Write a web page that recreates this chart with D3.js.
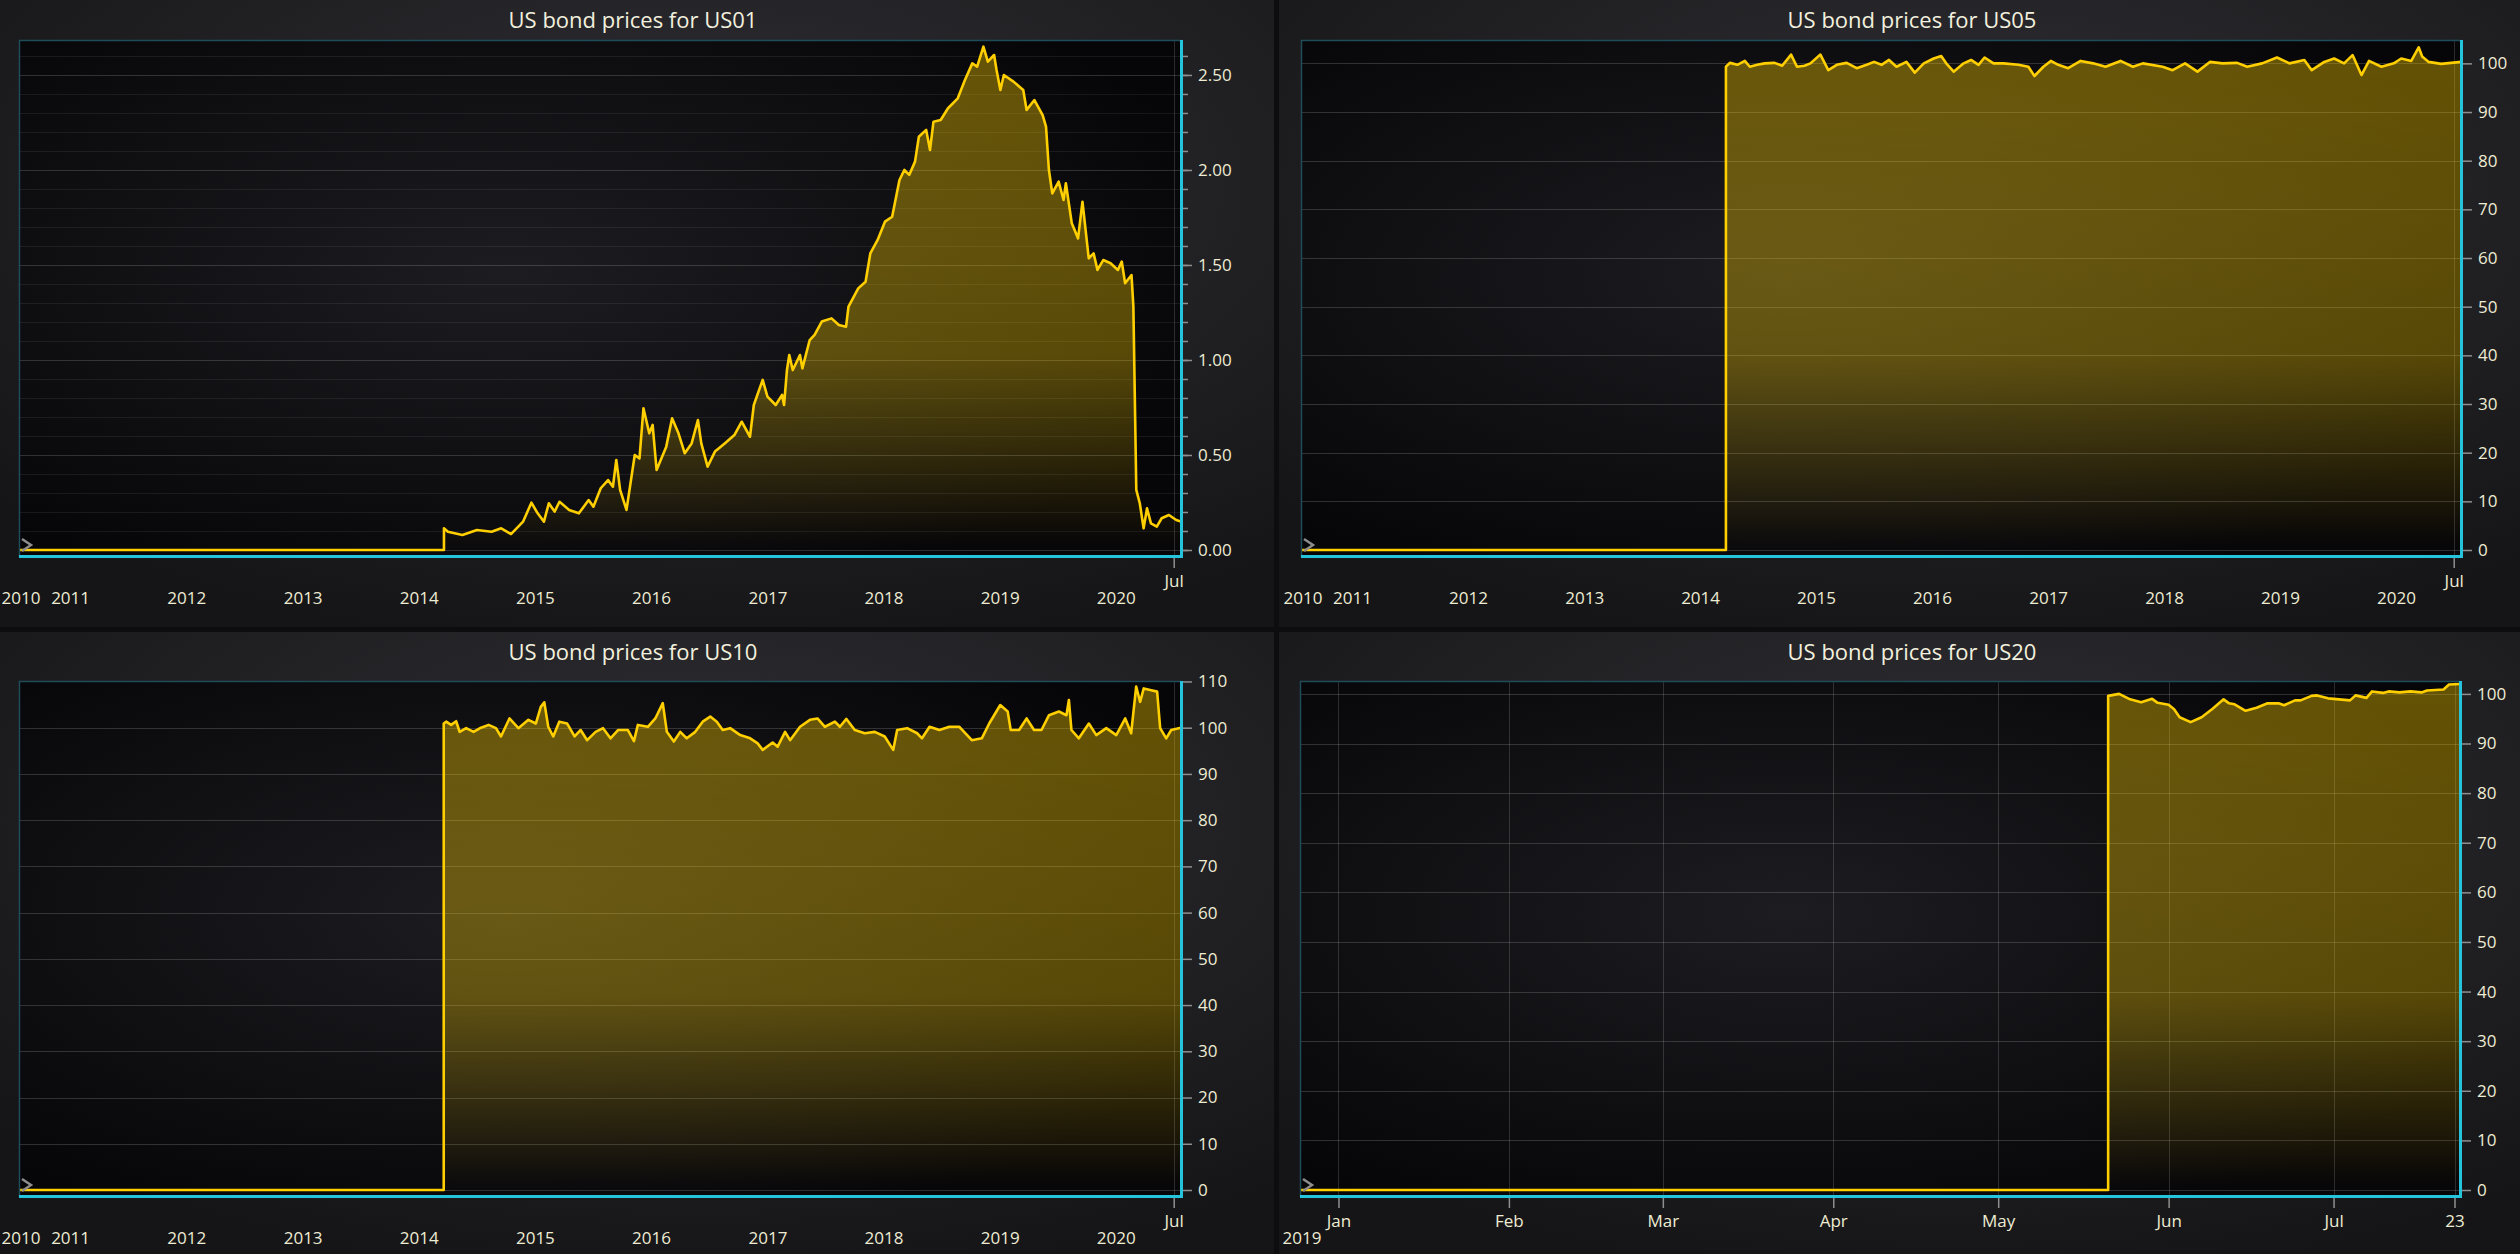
<!DOCTYPE html>
<html>
<head>
<meta charset="utf-8">
<script src="https://cdn.jsdelivr.net/npm/d3@7"></script>
<style>
    html, body { margin: 0; padding: 0; background: #0d0d0f; }
    svg { display: block; font-family: "Open Sans", "Noto Sans", sans-serif; }
</style>
</head>
<body>
<svg id="dashboard" width="2520" height="1254"></svg>
<script>
// series: [decimal year, value]
const us01Points = [[2010.56,0],[2014.217,0],[2014.217,0.114],[2014.251,0.096],[2014.376,0.079],[2014.501,0.105],[2014.627,0.096],[2014.710,0.114],[2014.794,0.084],[2014.857,0.123],[2014.898,0.149],[2014.970,0.249],[2015.024,0.193],[2015.078,0.149],[2015.120,0.246],[2015.170,0.202],[2015.212,0.254],[2015.295,0.211],[2015.379,0.193],[2015.463,0.263],[2015.504,0.228],[2015.567,0.325],[2015.630,0.368],[2015.672,0.333],[2015.701,0.474],[2015.734,0.316],[2015.789,0.211],[2015.860,0.500],[2015.901,0.482],[2015.935,0.746],[2015.985,0.614],[2016.014,0.658],[2016.048,0.421],[2016.089,0.482],[2016.131,0.544],[2016.181,0.693],[2016.236,0.614],[2016.290,0.509],[2016.349,0.561],[2016.403,0.684],[2016.432,0.561],[2016.486,0.439],[2016.549,0.518],[2016.633,0.561],[2016.716,0.605],[2016.779,0.675],[2016.850,0.596],[2016.883,0.763],[2016.959,0.895],[2017.000,0.807],[2017.071,0.763],[2017.126,0.816],[2017.143,0.763],[2017.168,0.947],[2017.188,1.026],[2017.218,0.947],[2017.280,1.026],[2017.301,0.956],[2017.364,1.105],[2017.406,1.132],[2017.468,1.202],[2017.552,1.219],[2017.615,1.184],[2017.677,1.175],[2017.698,1.281],[2017.782,1.377],[2017.845,1.412],[2017.886,1.561],[2017.949,1.632],[2018.012,1.728],[2018.074,1.754],[2018.137,1.947],[2018.179,2.000],[2018.221,1.974],[2018.271,2.044],[2018.304,2.175],[2018.367,2.211],[2018.400,2.105],[2018.430,2.254],[2018.492,2.263],[2018.555,2.325],[2018.639,2.377],[2018.701,2.474],[2018.764,2.561],[2018.806,2.544],[2018.860,2.649],[2018.898,2.570],[2018.952,2.605],[2018.973,2.526],[2019.006,2.421],[2019.036,2.500],[2019.119,2.465],[2019.203,2.421],[2019.232,2.316],[2019.299,2.368],[2019.370,2.289],[2019.399,2.228],[2019.424,2.000],[2019.453,1.877],[2019.508,1.939],[2019.550,1.842],[2019.570,1.930],[2019.621,1.719],[2019.675,1.640],[2019.713,1.833],[2019.767,1.535],[2019.809,1.561],[2019.842,1.474],[2019.892,1.526],[2019.955,1.509],[2020.018,1.474],[2020.051,1.518],[2020.080,1.404],[2020.135,1.447],[2020.151,1.281],[2020.176,0.316],[2020.206,0.246],[2020.239,0.114],[2020.268,0.219],[2020.302,0.140],[2020.352,0.123],[2020.394,0.167],[2020.456,0.184],[2020.519,0.158],[2020.56,0.150]];

const us05Points = [[2010.56,0],[2014.223,0],[2014.223,99.3],[2014.257,100.1],[2014.322,99.7],[2014.386,100.5],[2014.429,99.3],[2014.493,99.7],[2014.557,100.0],[2014.643,100.1],[2014.708,99.5],[2014.785,101.8],[2014.836,99.3],[2014.901,99.5],[2014.952,100.0],[2015.038,101.8],[2015.106,98.6],[2015.179,99.7],[2015.265,100.1],[2015.351,99.0],[2015.437,99.7],[2015.501,100.3],[2015.565,99.7],[2015.630,100.7],[2015.694,99.3],[2015.780,100.3],[2015.852,98.1],[2015.930,100.0],[2016.015,101.0],[2016.080,101.5],[2016.123,100.0],[2016.187,98.3],[2016.273,100.0],[2016.337,100.7],[2016.401,99.7],[2016.453,101.2],[2016.530,100.0],[2016.616,100.0],[2016.744,99.7],[2016.830,99.3],[2016.882,97.4],[2016.959,99.3],[2017.023,100.5],[2017.087,99.7],[2017.173,99.0],[2017.280,100.5],[2017.388,100.0],[2017.495,99.3],[2017.624,100.5],[2017.731,99.3],[2017.817,100.0],[2017.988,99.3],[2018.074,98.6],[2018.181,100.0],[2018.288,98.3],[2018.395,100.3],[2018.503,100.0],[2018.631,100.1],[2018.717,99.3],[2018.846,100.0],[2018.974,101.2],[2019.082,100.0],[2019.210,100.7],[2019.274,98.6],[2019.382,100.3],[2019.467,101.0],[2019.553,100.0],[2019.626,101.7],[2019.703,97.6],[2019.768,100.5],[2019.875,99.3],[2019.982,100.0],[2020.046,101.0],[2020.132,100.5],[2020.196,103.3],[2020.226,101.4],[2020.282,100.3],[2020.389,99.9],[2020.475,100.1],[2020.56,100.3]];

const us10Points = [[2010.56,0],[2014.215,0],[2014.215,100.9],[2014.236,101.3],[2014.279,100.6],[2014.322,101.4],[2014.352,99.1],[2014.408,99.9],[2014.472,99.1],[2014.536,100.0],[2014.601,100.6],[2014.665,99.9],[2014.708,98.1],[2014.781,102.0],[2014.858,99.9],[2014.944,101.7],[2015.008,100.9],[2015.051,104.5],[2015.081,105.5],[2015.115,100.2],[2015.158,98.1],[2015.210,101.3],[2015.278,100.9],[2015.342,98.1],[2015.394,99.5],[2015.450,97.3],[2015.523,99.1],[2015.587,99.9],[2015.651,97.7],[2015.716,99.5],[2015.801,99.5],[2015.853,97.1],[2015.887,100.6],[2015.973,100.2],[2016.037,102.0],[2016.101,105.3],[2016.136,99.1],[2016.196,97.0],[2016.251,99.1],[2016.307,97.7],[2016.380,99.1],[2016.444,101.3],[2016.509,102.4],[2016.565,101.3],[2016.616,99.5],[2016.680,99.9],[2016.766,98.4],[2016.852,97.7],[2016.916,96.6],[2016.959,95.2],[2017.045,96.8],[2017.088,95.9],[2017.152,99.1],[2017.195,97.3],[2017.281,100.2],[2017.366,101.7],[2017.431,102.0],[2017.495,100.2],[2017.581,101.3],[2017.624,100.2],[2017.680,101.9],[2017.752,99.5],[2017.838,98.8],[2017.924,99.1],[2018.010,98.1],[2018.083,95.2],[2018.117,99.5],[2018.203,99.9],[2018.289,98.8],[2018.331,97.7],[2018.396,100.2],[2018.481,99.5],[2018.567,100.2],[2018.653,100.2],[2018.760,97.3],[2018.846,97.7],[2018.910,100.9],[2019.005,104.9],[2019.069,103.5],[2019.095,99.5],[2019.167,99.5],[2019.232,102.0],[2019.296,99.5],[2019.360,99.5],[2019.425,102.7],[2019.510,103.5],[2019.575,102.7],[2019.596,106.0],[2019.618,99.5],[2019.682,97.7],[2019.768,100.9],[2019.832,98.4],[2019.918,99.9],[2020.004,98.4],[2020.081,102.0],[2020.132,98.8],[2020.175,108.9],[2020.209,105.6],[2020.240,108.5],[2020.304,108.1],[2020.355,107.8],[2020.381,99.9],[2020.433,97.7],[2020.476,99.5],[2020.56,100.0]];

// US20 is daily over 2019
const us20Dates = ["2018-12-25","2019-05-21","2019-05-21","2019-05-23","2019-05-25","2019-05-27","2019-05-29","2019-05-30","2019-06-01","2019-06-02","2019-06-03","2019-06-05","2019-06-07","2019-06-09","2019-06-11","2019-06-12","2019-06-13","2019-06-15","2019-06-17","2019-06-19","2019-06-21","2019-06-22","2019-06-24","2019-06-25","2019-06-27","2019-06-28","2019-06-30","2019-07-02","2019-07-04","2019-07-05","2019-07-07","2019-07-08","2019-07-10","2019-07-11","2019-07-13","2019-07-15","2019-07-17","2019-07-18","2019-07-21","2019-07-22","2019-07-24"];
const us20Values = [0,0,99.6,100.0,98.9,98.3,99.0,98.2,97.8,96.9,95.3,94.3,95.3,97.0,98.9,98.1,97.9,96.6,97.2,98.1,98.1,97.7,98.7,98.7,99.6,99.7,99.1,98.9,98.7,99.7,99.2,100.5,100.2,100.5,100.3,100.5,100.3,100.7,100.9,101.9,102.0];

// ticks
const decadeYearTicks = [2011, 2012, 2013, 2014, 2015, 2016, 2017, 2018, 2019, 2020];
const decadeTickDates = ["2020-07-01"];
const decadeTickLabels = ["Jul"];
const us20TickDates = ["2019-01-01","2019-02-01","2019-03-01","2019-04-01","2019-05-01","2019-06-01","2019-07-01","2019-07-23"];
const us20TickLabels = ["Jan","Feb","Mar","Apr","May","Jun","Jul","23"];
const us01MajorTicks = [0, 0.5, 1, 1.5, 2, 2.5];
const us01MinorTicks = d3.range(0, 27).map(i => i / 10);
const tenTicks100 = [0, 10, 20, 30, 40, 50, 60, 70, 80, 90, 100];
const tenTicks110 = [0, 10, 20, 30, 40, 50, 60, 70, 80, 90, 100, 110];

const labelColor = "#eeecd3";
const labelSize = "17px";
const parseDay = d3.utcParse("%Y-%m-%d");

// decimal year -> Date
function yearToDate(y) {
    const yr = Math.floor(y);
    const a = Date.UTC(yr, 0, 1), b = Date.UTC(yr + 1, 0, 1);
    return new Date(a + (y - yr) * (b - a));
}

const svg = d3.select("#dashboard");
svg.append("rect").attr("width", 2520).attr("height", 1254).attr("fill", "#0d0d0f");

const defs = svg.append("defs");
let panelGrad = defs.append("radialGradient").attr("id", "panelBg")
    .attr("cx", "55%").attr("cy", "30%").attr("r", "75%");
panelGrad.append("stop").attr("offset", 0).attr("stop-color", "#302f34");
panelGrad.append("stop").attr("offset", 1).attr("stop-color", "#151517");
let plotGrad = defs.append("radialGradient").attr("id", "plotBg")
    .attr("cx", "42%").attr("cy", "45%").attr("r", "65%");
plotGrad.append("stop").attr("offset", 0).attr("stop-color", "#1d1c20");
plotGrad.append("stop").attr("offset", 1).attr("stop-color", "#060508");

class BondChart {
    constructor(config, id) {
        this.cfg = config;
        this.id = id;
        this.plot = config.plot;
        this.zeroY = this.plot.bottom - 7;

        this.x = d3.scaleUtc().domain(config.xDomain).range([this.plot.left, this.plot.right]);
        this.y = d3.scaleLinear().domain([0, config.yMax]).range([this.zeroY, this.plot.top]);

        this.g = svg.append("g").attr("class", "bond-chart");

        this.drawPanel();
        this.drawGrid();
        this.drawSeries();
        this.drawFrame();
        this.drawAxes();
    }

    // background + title
    drawPanel() {
        const p = this.cfg.panel;
        this.g.append("rect")
            .attr("x", p.x).attr("y", p.y).attr("width", p.w).attr("height", p.h)
            .attr("fill", "url(#panelBg)");

        this.g.append("rect")
            .attr("x", this.plot.left).attr("y", this.plot.top)
            .attr("width", this.plot.right - this.plot.left)
            .attr("height", this.plot.bottom - this.plot.top)
            .attr("fill", "url(#plotBg)");

        this.g.append("text")
            .attr("x", this.cfg.titleX).attr("y", p.y + 20)
            .attr("dy", "0.35em")
            .attr("text-anchor", "middle")
            .attr("fill", "#f2f0de")
            .style("font-size", "22px")
            .text(this.cfg.title);
    }

    drawGrid() {
        const grid = this.g.append("g");

        // minor horizontal lines
        grid.selectAll(".minor")
            .data(this.cfg.yMinor.filter(v => !this.cfg.yMajor.includes(v)))
            .join("line")
            .attr("x1", this.plot.left).attr("x2", this.plot.right)
            .attr("y1", d => Math.round(this.y(d)) + 0.5).attr("y2", d => Math.round(this.y(d)) + 0.5)
            .attr("stroke", "rgba(255,255,255,0.07)");

        grid.selectAll(".major")
            .data(this.cfg.yMajor)
            .join("line")
            .attr("x1", this.plot.left).attr("x2", this.plot.right)
            .attr("y1", d => Math.round(this.y(d)) + 0.5).attr("y2", d => Math.round(this.y(d)) + 0.5)
            .attr("stroke", "rgba(255,255,255,0.16)");

        // vertical lines at the labelled ticks
        grid.selectAll(".vert")
            .data(this.cfg.xTickDates)
            .join("line")
            .attr("x1", d => Math.round(this.x(d)) + 0.5).attr("x2", d => Math.round(this.x(d)) + 0.5)
            .attr("y1", this.plot.top).attr("y2", this.plot.bottom)
            .attr("stroke", "rgba(255,255,255,0.15)");
    }

    drawSeries() {
        const fillId = "fill-" + this.id, clipId = "clip-" + this.id;

        let grad = defs.append("linearGradient").attr("id", fillId)
            .attr("gradientUnits", "userSpaceOnUse")
            .attr("x1", 0).attr("x2", 0)
            .attr("y1", this.plot.top).attr("y2", this.zeroY);
        grad.append("stop").attr("offset", 0).attr("stop-color", "#ffd200").attr("stop-opacity", 0.38);
        grad.append("stop").attr("offset", 0.62).attr("stop-color", "#ffd200").attr("stop-opacity", 0.32);
        grad.append("stop").attr("offset", 1).attr("stop-color", "#ffd200").attr("stop-opacity", 0.0);

        defs.append("clipPath").attr("id", clipId)
            .append("rect")
            .attr("x", this.plot.left).attr("y", this.plot.top)
            .attr("width", this.plot.right - this.plot.left)
            .attr("height", this.plot.bottom - this.plot.top);

        const data = this.cfg.data;
        const area = d3.area()
            .x(d => this.x(d.date))
            .y0(this.zeroY)
            .y1(d => this.y(d.value));
        const line = d3.line()
            .x(d => this.x(d.date))
            .y(d => this.y(d.value));

        const layer = this.g.append("g").attr("clip-path", "url(#" + clipId + ")");
        layer.append("path").datum(data)
            .attr("d", area)
            .attr("fill", "url(#" + fillId + ")");
        layer.append("path").datum(data)
            .attr("d", line)
            .attr("fill", "none")
            .attr("stroke", "#ffcf00")
            .attr("stroke-width", 2.6)
            .attr("stroke-linejoin", "round");
    }

    // plot border and cyan axis lines
    drawFrame() {
        const p = this.plot;
        this.g.append("path")
            .attr("d", `M${p.left + 0.5},${p.bottom} V${p.top + 0.5} H${p.right}`)
            .attr("fill", "none")
            .attr("stroke", "#1f4c58")
            .attr("stroke-width", 1.5);

        this.g.append("line")
            .attr("x1", p.right + 0.5).attr("x2", p.right + 0.5)
            .attr("y1", p.top).attr("y2", p.bottom + 1)
            .attr("stroke", "#25c4dc").attr("stroke-width", 3);
        this.g.append("line")
            .attr("x1", p.left).attr("x2", p.right + 2)
            .attr("y1", p.bottom - 0.5).attr("y2", p.bottom - 0.5)
            .attr("stroke", "#25c4dc").attr("stroke-width", 3);

        // small zoom chevron
        this.g.append("path")
            .attr("d", `M${p.left + 3},${this.zeroY - 11} L${p.left + 12},${this.zeroY - 5} L${p.left + 3},${this.zeroY + 1}`)
            .attr("fill", "none")
            .attr("stroke", "#8c8c8c")
            .attr("stroke-width", 2.5);
    }

    drawAxes() {
        const p = this.plot;
        const styleAxis = g => {
            g.attr("font-size", null).attr("font-family", null);
            g.select(".domain").remove();
            g.selectAll("line").attr("stroke", "#8f8f8f").attr("stroke-width", 1.5);
            g.selectAll("text").attr("fill", labelColor).style("font-size", labelSize);
        };

        // y minor ticks
        this.g.append("g")
            .attr("transform", `translate(${p.right + 2},0)`)
            .call(d3.axisRight(this.y).tickValues(this.cfg.yMinor).tickSize(5).tickFormat(""))
            .call(styleAxis);

        // y major ticks with labels
        this.g.append("g")
            .attr("transform", `translate(${p.right + 2},0)`)
            .call(d3.axisRight(this.y).tickValues(this.cfg.yMajor).tickSize(9).tickPadding(6).tickFormat(this.cfg.yFormat))
            .call(styleAxis);

        // x ticks (months / Jul)
        const labels = this.cfg.xTickLabels;
        this.g.append("g")
            .attr("transform", `translate(0,${p.bottom + 1})`)
            .call(d3.axisBottom(this.x).tickValues(this.cfg.xTickDates).tickSize(10).tickPadding(7)
                .tickFormat((d, i) => labels[i]))
            .call(styleAxis);

        // second row: years, no tick marks
        if (this.cfg.yearTicks.length) {
            this.g.append("g")
                .attr("transform", `translate(0,${p.bottom + 1})`)
                .call(d3.axisBottom(this.x).tickValues(this.cfg.yearTicks).tickSize(0).tickPadding(34)
                    .tickFormat(d3.utcFormat("%Y")))
                .call(styleAxis);
        }

        this.g.append("text")
            .attr("x", p.left + 2).attr("y", p.bottom + 1 + 34)
            .attr("dy", "0.71em")
            .attr("text-anchor", "middle")
            .attr("fill", labelColor)
            .style("font-size", labelSize)
            .text(this.cfg.contextLabel);
    }
}

const decadeDomain = [yearToDate(2010.56), yearToDate(2020.56)];
const decadeYearDates = decadeYearTicks.map(y => new Date(Date.UTC(y, 0, 1)));
const decadeJul = decadeTickDates.map(parseDay);
const toSeries = pts => pts.map(d => ({ date: yearToDate(d[0]), value: d[1] }));

const charts = [
    {
        title: "US bond prices for US01",
        panel: { x: 0, y: 0, w: 1274, h: 627 }, titleX: 633,
        plot: { left: 19, right: 1181, top: 40, bottom: 557 },
        data: toSeries(us01Points), xDomain: decadeDomain, yMax: 2.684,
        yMajor: us01MajorTicks, yMinor: us01MinorTicks, yFormat: d3.format(".2f"),
        xTickDates: decadeJul, xTickLabels: decadeTickLabels, yearTicks: decadeYearDates, contextLabel: "2010"
    },
    {
        title: "US bond prices for US05",
        panel: { x: 1279, y: 0, w: 1241, h: 627 }, titleX: 1912,
        plot: { left: 1301, right: 2461, top: 40, bottom: 557 },
        data: toSeries(us05Points), xDomain: decadeDomain, yMax: 104.8,
        yMajor: tenTicks100, yMinor: [], yFormat: d3.format("d"),
        xTickDates: decadeJul, xTickLabels: decadeTickLabels, yearTicks: decadeYearDates, contextLabel: "2010"
    },
    {
        title: "US bond prices for US10",
        panel: { x: 0, y: 632, w: 1274, h: 622 }, titleX: 633,
        plot: { left: 19, right: 1181, top: 681, bottom: 1197 },
        data: toSeries(us10Points), xDomain: decadeDomain, yMax: 110.1,
        yMajor: tenTicks110, yMinor: [], yFormat: d3.format("d"),
        xTickDates: decadeJul, xTickLabels: decadeTickLabels, yearTicks: decadeYearDates, contextLabel: "2010"
    },
    {
        title: "US bond prices for US20",
        panel: { x: 1279, y: 632, w: 1241, h: 622 }, titleX: 1912,
        plot: { left: 1300, right: 2460, top: 681, bottom: 1197 },
        data: us20Dates.map((d, i) => ({ date: parseDay(d), value: us20Values[i] })),
        xDomain: [parseDay("2018-12-25"), parseDay("2019-07-24")], yMax: 102.6,
        yMajor: tenTicks100, yMinor: [], yFormat: d3.format("d"),
        xTickDates: us20TickDates.map(parseDay), xTickLabels: us20TickLabels, yearTicks: [], contextLabel: "2019"
    }
];

charts.forEach((c, i) => new BondChart(c, i));
</script>
</body>
</html>
